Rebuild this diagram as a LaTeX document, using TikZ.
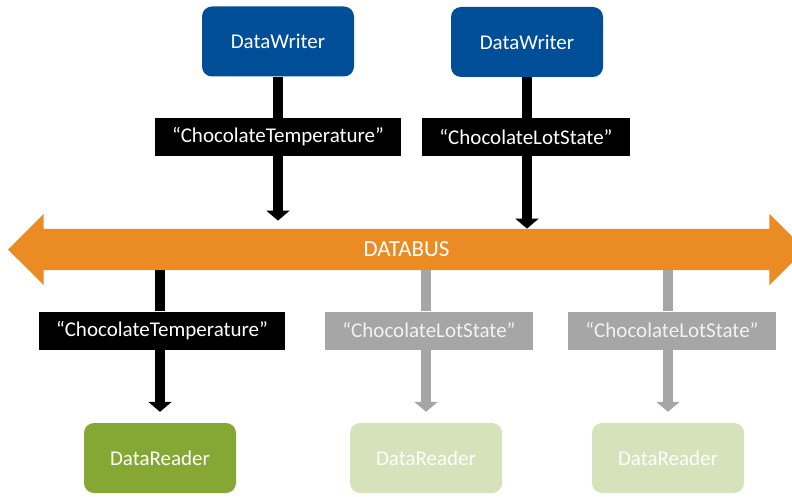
\documentclass[tikz,border=0pt]{standalone}
\usepackage{fontspec}
\setmainfont{Carlito}
\usepackage{xcolor}
\usetikzlibrary{shapes.arrows,arrows.meta,positioning}
\definecolor{writerblue}{RGB}{0,78,152}
\definecolor{busorange}{RGB}{234,139,36}
\definecolor{readergreen}{RGB}{133,168,53}
\definecolor{idlegreen}{RGB}{214,226,186}
\definecolor{idlegray}{RGB}{166,166,166}
\definecolor{idletext}{RGB}{242,242,242}

\begin{document}
\begin{tikzpicture}[
    x=1pt, y=-1pt,
    every node/.style={font=\fontsize{21}{25}\selectfont},
    entity/.style={rectangle, rounded corners=10pt, minimum width=152pt, minimum height=70pt, text=white},
    writer/.style={entity, fill=writerblue},
    reader/.style={entity, fill=readergreen},
    idle/.style={entity, fill=idlegreen},
    topic/.style={rectangle, fill=black, text=white, inner xsep=17pt, minimum height=38pt},
    idletopic/.style={topic, fill=idlegray, text=idletext},
    pipe/.style={line width=10pt},
    feed/.style={pipe, -{Triangle[width=23pt,length=10pt]}},
    bus/.style={double arrow, fill=busorange, text=white, font=\fontsize{23}{27}\selectfont,
        text height=14pt, text depth=0pt, inner xsep=0pt, inner ysep=13.5pt,
        minimum height=797pt, minimum width=71pt, double arrow head extend=15pt}
]
    \useasboundingbox (0,0) rectangle (792,497);
    \clip (0,0) rectangle (792,497);

    % Bus
    \node[bus] (bus) at (406.5, 249.5) {DATABUS};

    % Writers
    \node[writer] (w1) at (278, 41.5) {DataWriter};
    \node[writer] (w2) at (527, 42) {DataWriter};
    \node[topic] (t1) at (278, 137) {“ChocolateTemperature”};
    \node[topic] (t2) at (526, 137) {“ChocolateLotState”};
    \draw[pipe] (w1) -- (t1);
    \draw[feed, shorten >=8pt] (t1.south) -- (bus.north -| t1);
    \draw[pipe] (w2) -- (w2 |- t2.north);
    \draw[feed] (w2 |- t2.south) -- (bus.north -| w2);

    % Readers
    \foreach \i/\x/\lx/\col/\ts/\rs/\name in {
        1/160/162/black/topic/reader/ChocolateTemperature,
        2/426/429/idlegray/idletopic/idle/ChocolateLotState,
        3/668/672/idlegray/idletopic/idle/ChocolateLotState} {
        \node[\rs] (r\i) at (\x, 458) {DataReader};
        \node[\ts] (l\i) at (\lx, 330.5) {“\name”};
        \draw[pipe, \col] (bus.south -| r\i) -- (r\i |- l\i.north);
        \draw[feed, \col, shorten >=11pt] (r\i |- l\i.south) -- (r\i.north);
    }
\end{tikzpicture}
\end{document}
